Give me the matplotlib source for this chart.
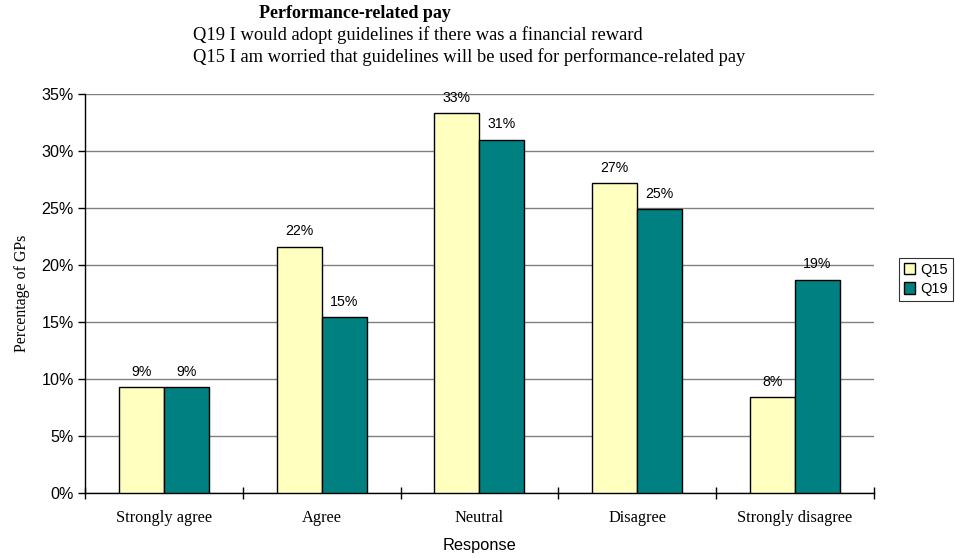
import numpy as np
import matplotlib
matplotlib.use('Agg')
import matplotlib.pyplot as plt
import matplotlib.ticker as plticker

categories = ['Strongly agree', 'Agree', 'Neutral', 'Disagree', 'Strongly disagree']
q15 = [9.3, 21.6, 33.3, 27.2, 8.4]
q19 = [9.3, 15.4, 31.0, 24.9, 18.7]
q15_labels = ['9%', '22%', '33%', '27%', '8%']
q19_labels = ['9%', '15%', '31%', '25%', '19%']

serif = 'Liberation Serif'
sans = 'Liberation Sans'

fig = plt.figure(figsize=(9.55, 5.58), dpi=100)
ax = fig.add_axes([0.089, 0.1165, 0.826, 0.715])

x = np.arange(len(categories))
w = 1 / 3.5
b15 = ax.bar(x - w / 2, q15, w, color='#FFFFC0', edgecolor='black', linewidth=1, label='Q15', zorder=3)
b19 = ax.bar(x + w / 2, q19, w, color='#008080', edgecolor='black', linewidth=1, label='Q19', zorder=3)

for bars, labels in ((b15, q15_labels), (b19, q19_labels)):
    for rect, lab in zip(bars, labels):
        ax.annotate(lab, (rect.get_x() + rect.get_width() / 2, rect.get_height()),
                    xytext=(0, 6), textcoords='offset points', ha='center', va='bottom',
                    fontsize=10.2, family=sans)

ax.set_xlim(-0.5, len(categories) - 0.5)
ax.set_ylim(0, 35)
ax.yaxis.set_major_locator(plticker.MultipleLocator(5))
ax.yaxis.set_major_formatter(plticker.FuncFormatter(lambda v, p: '%d%%' % v))
ax.grid(axis='y', color='#808080', linewidth=1, zorder=0)
ax.set_axisbelow(True)

# category boundaries carry the tick marks, names sit between them
ax.set_xticks(np.arange(-0.5, len(categories), 1))
ax.set_xticklabels([])
ax.set_xticks(x, minor=True)
ax.set_xticklabels(categories, minor=True, family=serif, fontsize=11.8)
ax.tick_params(axis='x', which='major', length=8, direction='inout', width=1)
ax.tick_params(axis='x', which='minor', length=0, pad=12)
ax.tick_params(axis='y', length=5, width=1, direction='out', pad=3)
for t in ax.get_yticklabels():
    t.set_family(sans)
    t.set_fontsize(11.6)

for side in ('top', 'right'):
    ax.spines[side].set_visible(False)
ax.spines['left'].set_linewidth(1)
ax.spines['bottom'].set_linewidth(1)

ax.set_ylabel('Percentage of GPs', family=serif, fontsize=11.4, labelpad=8)
ax.set_xlabel('Response', family=sans, fontsize=11.8, labelpad=9)

leg = fig.legend(loc='upper left', bbox_to_anchor=(0.941, 0.538), frameon=True, fancybox=False,
                 edgecolor='black', prop={'family': sans, 'size': 10.5},
                 handlelength=0.8, handleheight=0.8, handletextpad=0.3,
                 borderpad=0.35, labelspacing=0.35, borderaxespad=0)
leg.get_frame().set_linewidth(0.8)

fig.text(0.372, 0.975, 'Performance-related pay', ha='center', va='center',
         family=serif, fontsize=13, fontweight='bold')
fig.text(0.202, 0.937, 'Q19 I would adopt guidelines if there was a financial reward',
         ha='left', va='center', family=serif, fontsize=13.3)
fig.text(0.202, 0.898, 'Q15 I am worried that guidelines will be used for performance-related pay',
         ha='left', va='center', family=serif, fontsize=13.3)

fig.savefig('out.png', dpi=100)
